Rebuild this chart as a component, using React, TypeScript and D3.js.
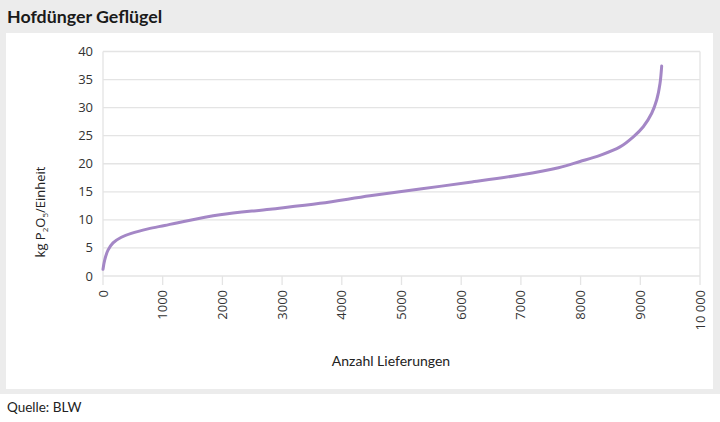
import React from "react";
import * as d3 from "d3";

const deliveries = [0, 28, 84, 168, 307, 474, 754, 1033, 1256, 1960, 2797, 3635, 4472, 5310, 6147, 6985, 7630, 7990, 8325, 8660, 8883, 9050, 9191, 9275, 9330, 9358];
const values = [1.2, 2.85, 4.6, 5.9, 6.9, 7.6, 8.4, 9.0, 9.5, 10.9, 11.9, 12.95, 14.3, 15.5, 16.7, 18.0, 19.3, 20.4, 21.5, 23.0, 24.8, 26.6, 29.0, 31.4, 34.3, 37.4];
const xTicks = [0, 1000, 2000, 3000, 4000, 5000, 6000, 7000, 8000, 9000, 10000];
const xTickLabels = ["0", "1000", "2000", "3000", "4000", "5000", "6000", "7000", "8000", "9000", "10 000"];
const yTicks = [0, 5, 10, 15, 20, 25, 30, 35, 40];

export default function App() {
  const W = 720, H = 422;
  const x = d3.scaleLinear().domain([0, 10000]).range([103, 700]);
  const y = d3.scaleLinear().domain([0, 40]).range([276, 51.5]);
  const line = d3
    .line<number>()
    .x((_, i) => x(deliveries[i]))
    .y((v) => y(v))
    .curve(d3.curveCatmullRom.alpha(0.5));
  const grid = "#e4e4e4";
  const font = "'Open Sans', sans-serif";
  const fontC = "Lato, sans-serif";
  return (
    <svg width={W} height={H} style={{ position: "absolute", left: 0, top: 0 }}>
      <rect x={0} y={0} width={W} height={H} fill="#ffffff" />
      <rect x={0} y={0} width={W} height={394} fill="#ececec" />
      <rect x={6} y={33} width={707} height={356} fill="#ffffff" />
      <text x={7} y={23} fontFamily={fontC} fontWeight={700} fontSize={17.8} fill="#1a1a1a">
        Hofdünger Geflügel
      </text>
      {yTicks.map((t) => (
        <g key={t}>
          <line x1={103} x2={700} y1={y(t)} y2={y(t)} stroke={grid} strokeWidth={1.3} />
          <text x={93} y={y(t)} dy="0.35em" textAnchor="end" fontFamily={font} fontSize={13} fill="#333">
            {t}
          </text>
        </g>
      ))}
      <line x1={103} x2={103} y1={y(40)} y2={y(0)} stroke={grid} strokeWidth={1.3} />
      <line x1={700} x2={700} y1={y(40)} y2={y(0)} stroke={grid} strokeWidth={1.3} />
      {xTicks.map((t, i) => (
        <g key={t}>
          <line x1={x(t)} x2={x(t)} y1={y(0)} y2={y(0) + 9} stroke={grid} strokeWidth={1.3} />
          <text
            transform={`translate(${x(t)},${y(0) + 14}) rotate(-90)`}
            dy="0.35em"
            textAnchor="end"
            fontFamily={font}
            fontSize={13}
            fill="#333"
          >
            {xTickLabels[i]}
          </text>
        </g>
      ))}
      <path d={line(values) || ""} fill="none" stroke="#a487c6" strokeWidth={3} strokeLinecap="round" />
      <text x={391} y={366} textAnchor="middle" fontFamily={fontC} fontSize={14} fill="#222">
        Anzahl Lieferungen
      </text>
      <text transform="translate(45,212) rotate(-90)" textAnchor="middle" fontFamily={font} fontSize={13} fill="#222">
        kg P<tspan fontSize={8} dy={3}>2</tspan>
        <tspan dy={-3}>O</tspan>
        <tspan fontSize={8} dy={3}>5</tspan>
        <tspan dy={-3}>/Einheit</tspan>
      </text>
      <text x={7} y={412} fontFamily={fontC} fontSize={13.5} fill="#222">
        Quelle: BLW
      </text>
    </svg>
  );
}
